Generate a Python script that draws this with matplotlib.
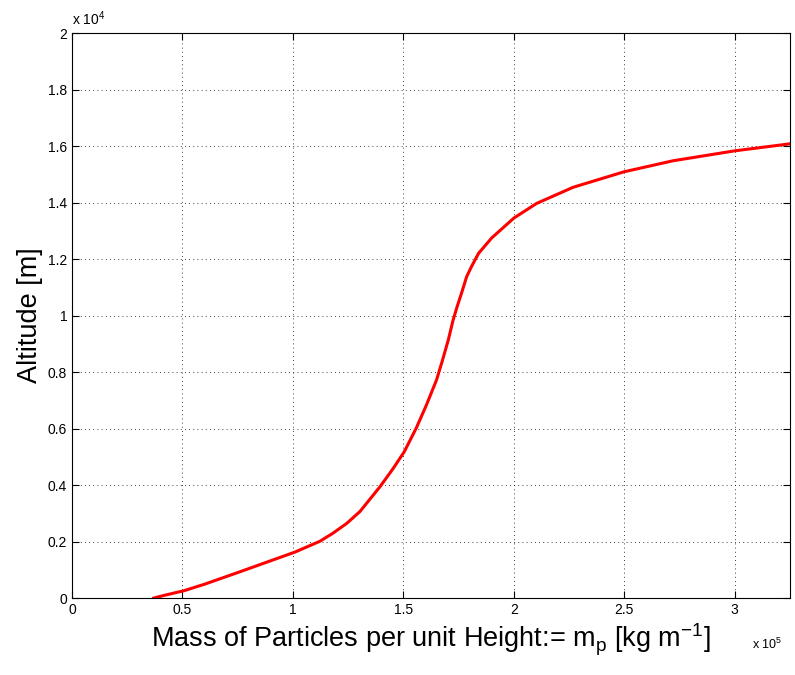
import matplotlib
matplotlib.use("Agg")
import matplotlib.pyplot as plt

plt.rcParams['font.family'] = ['Liberation Sans', 'DejaVu Sans']
plt.rcParams['mathtext.fontset'] = 'custom'
plt.rcParams['mathtext.rm'] = 'Liberation Sans'
plt.rcParams['mathtext.it'] = 'Liberation Sans'

# data
mass = [37000, 42000, 50700, 60000, 76000, 101000, 112200, 118000, 124300,
        130300, 139400, 145400, 150400, 155900, 160400, 165000, 167700, 170300,
        172500, 174300, 176300, 178600, 180800, 184000, 190000, 200000, 210300,
        226800, 249900, 272100, 299900, 325000]
altitude = [0, 100, 260, 490, 930, 1630, 2010, 2290, 2640,
            3060, 3940, 4590, 5180, 6030, 6830, 7720, 8420, 9130,
            9840, 10310, 10790, 11370, 11730, 12200, 12750, 13450, 13970,
            14540, 15090, 15480, 15830, 16080]

x_ticks = [0, 50000, 100000, 150000, 200000, 250000, 300000]
x_labels = ['0', '0.5', '1', '1.5', '2', '2.5', '3']
y_ticks = [0, 2000, 4000, 6000, 8000, 10000, 12000, 14000, 16000, 18000, 20000]
y_labels = ['0', '0.2', '0.4', '0.6', '0.8', '1', '1.2', '1.4', '1.6', '1.8', '2']

fig = plt.figure(figsize=(7.95, 6.75), dpi=100)
ax = fig.add_axes([0.0906, 0.114, 0.9031, 0.837])

ax.plot(mass, altitude, color='red', linewidth=2.2, solid_joinstyle='round')

ax.set_xlim(0, 325000)
ax.set_ylim(0, 20000)
ax.set_xticks(x_ticks)
ax.set_xticklabels(x_labels)
ax.set_yticks(y_ticks)
ax.set_yticklabels(y_labels)
ax.tick_params(direction='in', top=True, right=True, labelsize=10, length=5)
ax.grid(True, color='black', linestyle=(0, (1, 4)), linewidth=0.6)

ax.set_xlabel(r'Mass of Particles per unit Height:= m$_{\mathregular{p}}$ [kg m$^{\mathregular{-1}}$]',
              fontsize=19.5)
ax.set_ylabel('Altitude [m]', fontsize=19.5)
ax.xaxis.set_label_coords(0.5, -0.0425)
ax.yaxis.set_label_coords(-0.041, 0.5)

# scale factors like the original
fig.text(0.0906, 0.958, r'x 10$^\mathregular{4}$', fontsize=10, ha='left', va='bottom')
fig.text(0.946, 0.034, r'x 10$^\mathregular{5}$', fontsize=9, ha='left', va='bottom')

plt.savefig('out.png', dpi=100)
